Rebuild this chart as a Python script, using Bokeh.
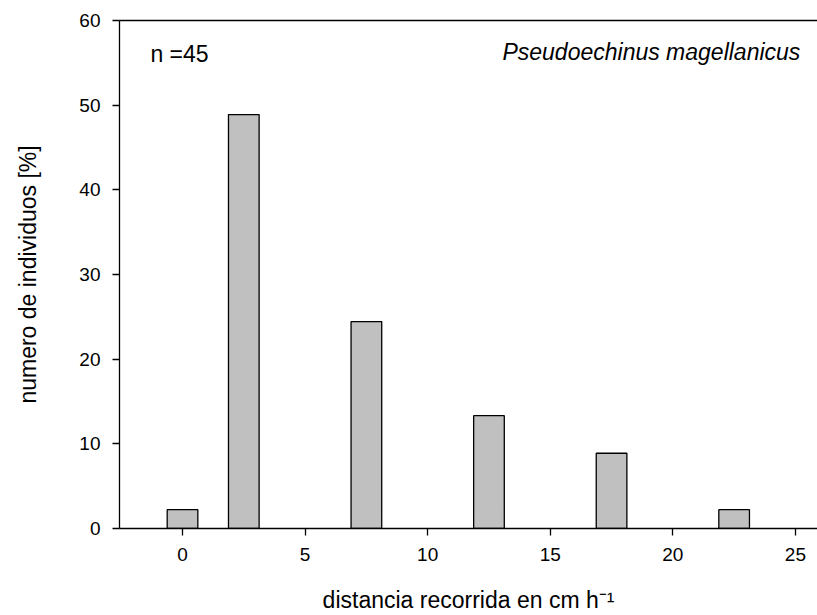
from bokeh.plotting import figure
from bokeh.models import ColumnDataSource, Label, LinearAxis, FixedTicker, Range1d
from bokeh.embed import file_html
from bokeh.resources import INLINE

# data
bin_centers = [0, 2.5, 7.5, 12.5, 17.5, 22.5]
percent = [2.22, 48.89, 24.44, 13.33, 8.89, 2.22]
x_ticks = [0, 5, 10, 15, 20, 25]
y_ticks = [0, 10, 20, 30, 40, 50, 60]
n_label = "n =45"
species = "Pseudoechinus magellanicus"
x_title = "distancia recorrida en cm h\u207b\u00b9"
y_title = "numero de individuos [%]"

FONT = "Liberation Sans"

src = ColumnDataSource(dict(x=bin_centers, top=percent))

p = figure(width=817, height=615, output_backend="svg", toolbar_location=None,
           x_range=Range1d(-2.57, 25.9), y_range=Range1d(0, 60),
           min_border_left=119, min_border_right=0, min_border_top=20, min_border_bottom=86)
p.outline_line_color = None
p.grid.visible = False
p.background_fill_color = "white"
p.border_fill_color = "white"

p.vbar(x="x", top="top", bottom=0, width=1.25, source=src,
       fill_color="#c0c0c0", line_color="black", line_width=1.3)

for ax in (p.xaxis[0], p.yaxis[0]):
    ax.axis_line_width = 1.3
    ax.major_tick_line_width = 1.3
    ax.major_tick_in = 0
    ax.major_tick_out = 7
    ax.minor_tick_line_color = None
    ax.major_label_text_font = FONT
    ax.major_label_text_font_size = "19px"
    ax.major_label_text_color = "black"
    ax.axis_label_text_font = FONT
    ax.axis_label_text_font_size = "23px"
    ax.axis_label_text_font_style = "normal"
    ax.axis_label_text_color = "black"

p.xaxis.ticker = FixedTicker(ticks=x_ticks)
p.yaxis.ticker = FixedTicker(ticks=y_ticks)
p.xaxis.axis_label = x_title
p.yaxis.axis_label = y_title
p.xaxis.major_label_standoff = 12
p.yaxis.major_label_standoff = 12
p.xaxis.axis_label_standoff = 23
p.yaxis.axis_label_standoff = 35

top_axis = LinearAxis(major_tick_line_color=None, minor_tick_line_color=None,
                      major_label_text_font_size="0px", axis_line_width=1.3)
top_axis.ticker = FixedTicker(ticks=[])
p.add_layout(top_axis, "above")

p.add_layout(Label(x=-1.31, y=56.0, text=n_label, text_font=FONT, text_font_size="23px",
                   text_baseline="middle", text_align="left", text_color="black"))
p.add_layout(Label(x=25.2, y=56.3, text=species, text_font=FONT, text_font_size="23px",
                   text_font_style="italic", text_baseline="middle", text_align="right",
                   text_color="black"))

open("out.html", "w").write(file_html(p, INLINE))
